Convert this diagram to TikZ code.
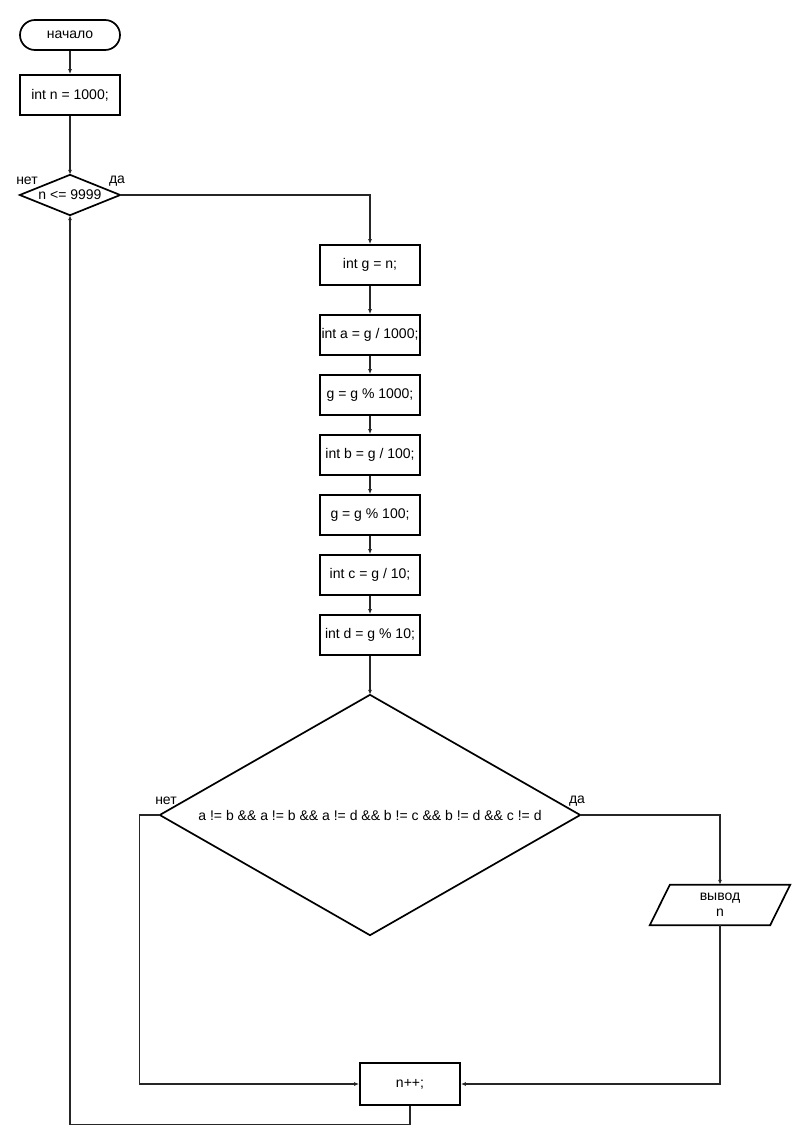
\documentclass[tikz,border=0pt]{standalone}
\usepackage{fontspec}
\setmainfont{Liberation Sans}
\usetikzlibrary{arrows.meta,calc}
\begin{document}
\begin{tikzpicture}[x=1pt,y=-1pt,
  every node/.style={font=\fontsize{14}{16}\selectfont},
  proc/.style={draw, line width=1.7pt, minimum width=100pt, minimum height=40pt, inner sep=0pt},
  term/.style={draw, line width=1.7pt, minimum width=100pt, minimum height=30pt, inner sep=0pt, rounded corners=15pt},
  ghost/.style={inner sep=0pt, align=center},
  shapeline/.style={line width=1.7pt, line join=miter},
  flow/.style={line width=1.2pt, draw=black!85, -{Latex[length=5pt,width=4pt]}},
  lbl/.style={inner sep=0pt}
]
\useasboundingbox (0,0) rectangle (800,1145);

% start and initialisation
\node[term] (start) at (70,35) {начало};
\node[proc] (init) at (70,95) {int n = 1000;};

% loop condition
\node[ghost, minimum width=100pt, minimum height=40pt] (cond1) at (70,195) {n <= 9999};
\draw[shapeline] (cond1.north) -- (cond1.east) -- (cond1.south) -- (cond1.west) -- cycle;
\node[lbl] (no1) at (27,181) {нет};
\node[lbl] (yes1) at (117,181) {да};

% digit extraction
\node[proc] (s0) at (370,265) {int g = n;};
\node[proc] (s1) at (370,335) {int a = g / 1000;};
\node[proc] (s2) at (370,395) {g = g \% 1000;};
\node[proc] (s3) at (370,455) {int b = g / 100;};
\node[proc] (s4) at (370,515) {g = g \% 100;};
\node[proc] (s5) at (370,575) {int c = g / 10;};
\node[proc] (s6) at (370,635) {int d = g \% 10;};

% distinct digits test
\node[ghost, minimum width=420pt, minimum height=240pt] (cond2) at (370,815) {a != b \&\& a != b \&\& a != d \&\& b != c \&\& b != d \&\& c != d};
\draw[shapeline] (cond2.north) -- (cond2.east) -- (cond2.south) -- (cond2.west) -- cycle;
\node[lbl] (no2) at (166,801) {нет};
\node[lbl] (yes2) at (577,801) {да};

% output
\node[ghost, minimum width=140pt, minimum height=40pt] (out) at (720,905) {вывод\\n};
\draw[shapeline] ($(out.north west)+(20,0)$) -- (out.north east) -- ($(out.south east)+(-20,0)$) -- (out.south west) -- cycle;

% increment
\node[proc, minimum height=42pt] (inc) at (410,1084) {n++;};

% connectors
\draw[flow] (start) -- (init);
\draw[flow] (init) -- (cond1);
\draw[flow] (cond1.east) -| (s0);
\draw[flow] (s0) -- (s1);
\draw[flow] (s1) -- (s2);
\draw[flow] (s2) -- (s3);
\draw[flow] (s3) -- (s4);
\draw[flow] (s4) -- (s5);
\draw[flow] (s5) -- (s6);
\draw[flow] (s6) -- (cond2);
\draw[flow] (cond2.east) -| (out);
\draw[flow] (out.south) |- (inc.east);
\draw[flow] (cond2.west) -- ++(-20,0) |- (inc.west);
\draw[flow] (inc.south) -- ++(0,19) -| (cond1.south);
\end{tikzpicture}
\end{document}
